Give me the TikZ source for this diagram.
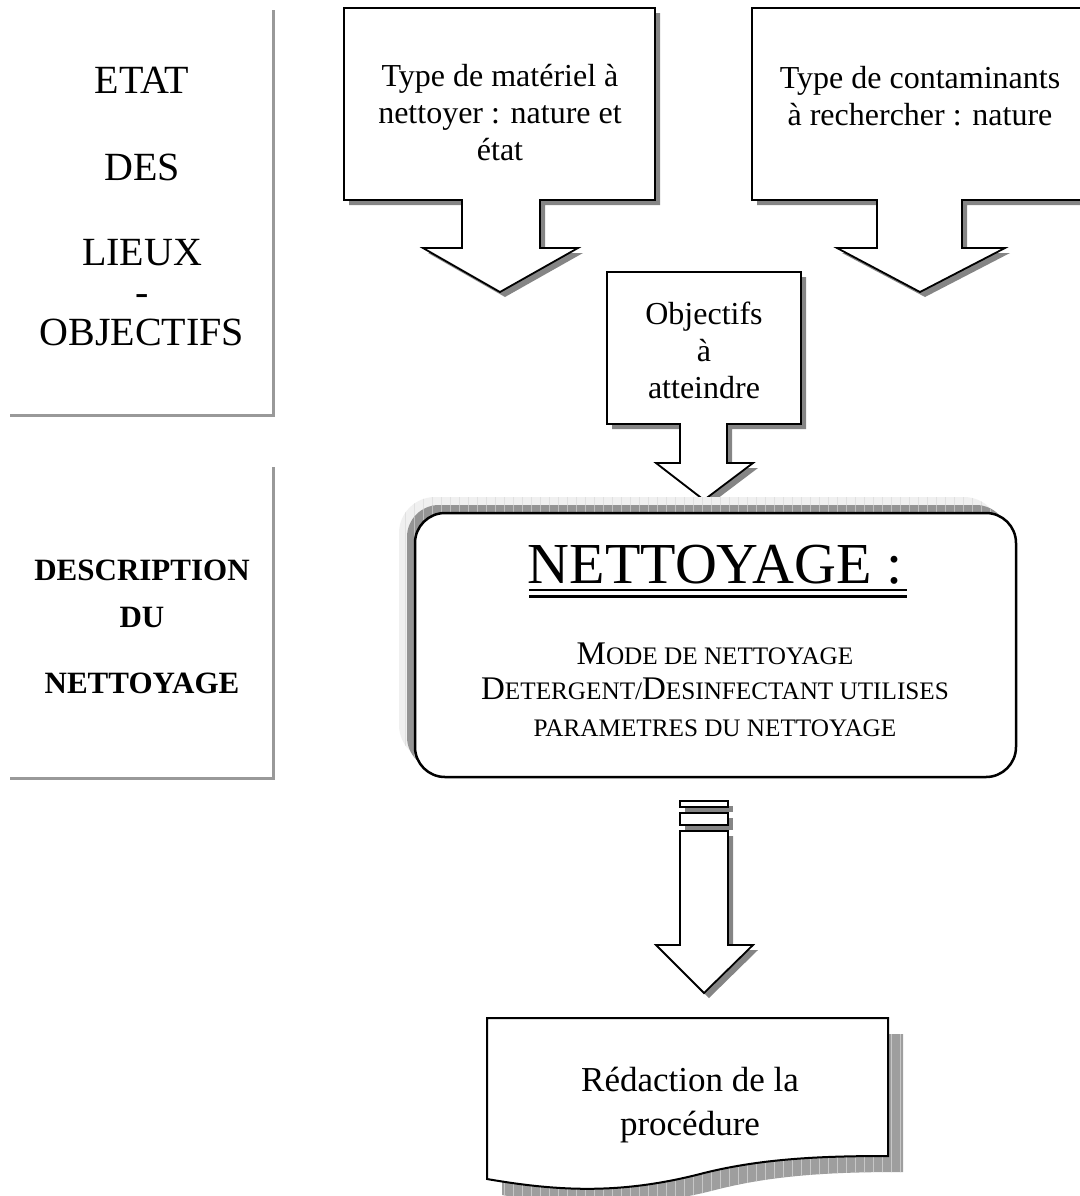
\documentclass[tikz,border=0pt]{standalone}
\usepackage{fontspec}
\setmainfont{Liberation Serif}
\usetikzlibrary{calc}
\begin{document}
\begin{tikzpicture}[x=0.5pt,y=-0.5pt,
  side/.style={draw=black!40, line width=1.5pt},
  callout/.style={draw=black, fill=white, line width=0.9pt, line join=miter},
  shade/.style={fill=black!48},
  lab/.style={font=\fontsize{16}{18.5}\selectfont, align=center, inner sep=0pt},
  leftlab/.style={font=\fontsize{20}{20}\selectfont, inner sep=0pt, align=center},
  leftbold/.style={font=\fontsize{15.5}{18}\selectfont\bfseries, inner sep=0pt},
  sc/.style={font=\fontsize{12.6}{18}\selectfont, inner sep=0pt, anchor=base},
  callA/.style={insert path={(344,8) -- (655,8) -- (655,200) -- (540,200) -- (540,248) -- (578,248) -- (500,292) -- (423,248) -- (462,248) -- (462,200) -- (344,200) -- cycle}},
  callB/.style={insert path={(752,8) -- (1090,8) -- (1090,200) -- (962,200) -- (962,248) -- (1005,248) -- (920,292) -- (837,248) -- (877,248) -- (877,200) -- (752,200) -- cycle}},
  callC/.style={insert path={(607,272) -- (801,272) -- (801,424) -- (727,424) -- (727,463) -- (753,463) -- (704,500) -- (656,463) -- (680,463) -- (680,424) -- (607,424) -- cycle}},
  shaft/.style={insert path={(680,831) -- (728,831) -- (728,945) -- (753,945) -- (704,993) -- (656,945) -- (680,945) -- cycle}},
  docshape/.style={insert path={(487,1018) -- (888,1018) -- (888,1156) .. controls (826,1156) and (764,1158) .. (704,1173) .. controls (624,1194) and (562,1192) .. (487,1179) -- cycle}},
  ]
\newcommand{\bc}[1]{{\fontsize{16.5}{18}\selectfont #1}}
\useasboundingbox (0,0) rectangle (1080,1196);

% ---------- left side panels ----------
\coordinate (p1a) at (273,10);
\coordinate (p1b) at (273,415);
\coordinate (p1c) at (10,415);
\draw[side] (p1a) -- (p1b) -- (p1c);
\coordinate (p2a) at (273,467);
\coordinate (p2b) at (273,778);
\coordinate (p2c) at (10,778);
\draw[side] (p2a) -- (p2b) -- (p2c);

\node[leftlab] (etat) at (142,80) {ETAT};
\node[leftlab] (des) at (142,167) {DES};
\node[leftlab] (lieux) at (142,293) {LIEUX\\-\\OBJECTIFS};

\node[leftbold] (descr) at (142,570) {DESCRIPTION};
\node[leftbold] (du) at (142,617) {DU};
\node[leftbold] (nettl) at (142,683) {NETTOYAGE};

% ---------- callouts ----------
\fill[shade, shift={(5,5)}, callA];
\path[callout, callA];
\fill[shade, shift={(5,5)}, callB];
\path[callout, callB];
\fill[shade, shift={(5,5)}, callC];
\path[callout, callC];

\node[lab] (mat) at (500,113) {Type de matériel à\\nettoyer : nature et\\état};
\node[lab] (cont) at (920,96) {Type de contaminants\\à rechercher : nature};
\node[lab] (obj) at (704,350) {Objectifs\\à\\atteindre};

% ---------- NETTOYAGE box with soft shadow ----------
\begin{scope}
  \clip[rounded corners=18pt] (399,497) rectangle (1000,761);
  \fill[black!6] (390,490) rectangle (1010,770);
  \draw[black!12, line width=0.4pt, step=9] (390,490) grid (1010,770);
\end{scope}
\begin{scope}
  \clip[rounded corners=16pt] (407,505) rectangle (1008,769);
  \fill[black!42] (400,500) rectangle (1010,770);
  \draw[black!25, line width=0.4pt, step=9] (400,500) grid (1010,770);
\end{scope}
\draw[fill=white, line width=1.25pt, rounded corners=15pt] (415,513) rectangle (1016,777);

\node[font=\fontsize{29}{30}\selectfont, anchor=base, inner sep=0pt] (title) at (715,583) {NETTOYAGE :};
\draw[line width=1pt] ($(title.base west)+(2,7)$) -- ($(title.base east)+(4,7)$);
\draw[line width=1.5pt] ($(title.base west)+(2,13)$) -- ($(title.base east)+(4,13)$);

\node[sc] (l1) at (715,664) {\bc{M}ODE DE NETTOYAGE};
\node[sc] (l2) at (715,699) {\bc{D}ETERGENT/\bc{D}ESINFECTANT UTILISES};
\node[sc] (l3) at (715,736) {PARAMETRES DU NETTOYAGE};

% ---------- striped arrow ----------
\fill[shade] (685,806) rectangle (733,812);
\fill[shade] (685,818) rectangle (733,830);
\fill[shade, shift={(5,5)}, shaft];
\draw[fill=white, line width=0.9pt] (680,801) rectangle (728,807);
\draw[fill=white, line width=0.9pt] (680,813) rectangle (728,825);
\path[callout, shaft];

% ---------- document ----------
\begin{scope}
  \clip[shift={(15,16)}, docshape];
  \fill[black!38] (480,1010) rectangle (910,1210);
  \draw[black!22, line width=0.4pt, step=9] (480,1010) grid (910,1210);
\end{scope}
\path[draw=black, fill=white, line width=1pt, docshape];
\node[font=\fontsize{17.5}{22}\selectfont, align=center, inner sep=0pt] (doc) at (690,1105) {Rédaction de la\\procédure};
\end{tikzpicture}
\end{document}
